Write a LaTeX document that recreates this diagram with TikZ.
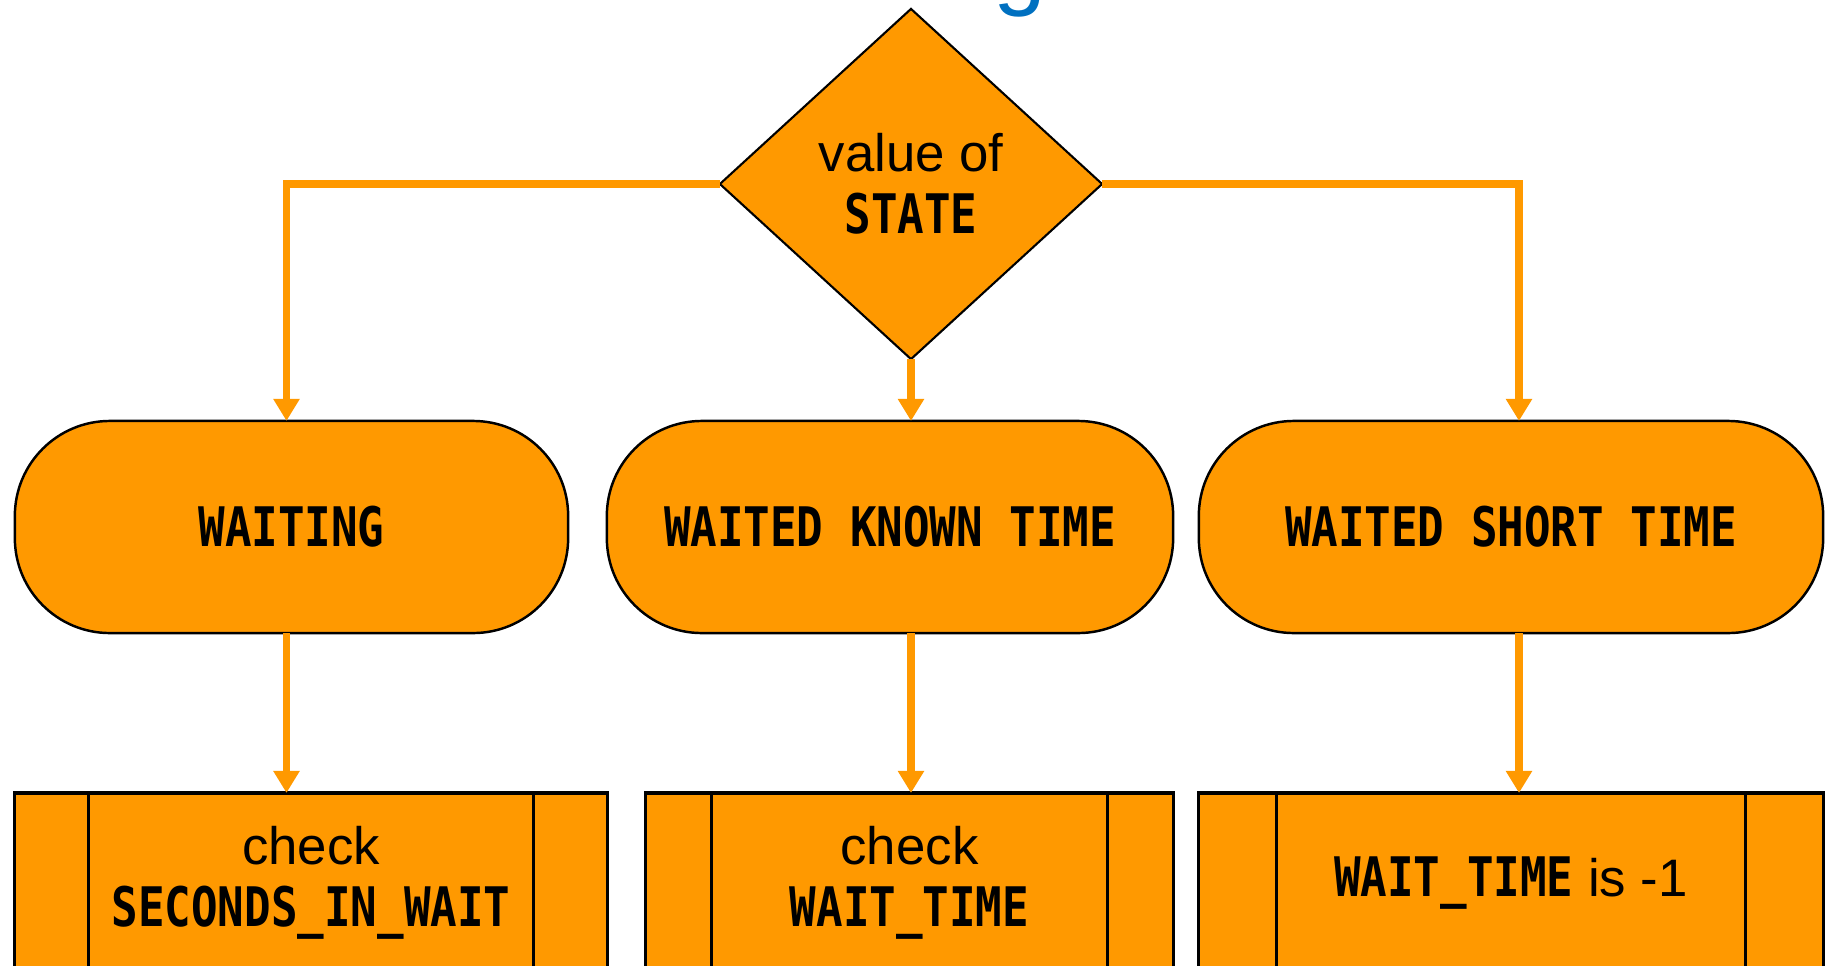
\documentclass[tikz,border=0pt]{standalone}
\usepackage{fontspec}
\setmainfont{Liberation Sans}
\newfontfamily\monofont{DejaVu Sans Mono}[FakeStretch=0.81]
\usetikzlibrary{shapes.geometric,arrows.meta}
\definecolor{flowor}{RGB}{255,153,0}
\definecolor{titleblue}{RGB}{0,112,192}
\newcommand{\fld}[1]{{\monofont\bfseries\fontsize{15.5}{17.5}\selectfont #1}}
\begin{document}
\begin{tikzpicture}[x=0.01cm,y=-0.01cm,
    font=\fontsize{15}{17.5}\selectfont,
    decision/.style={diamond,draw,fill=flowor,line width=0.6pt,minimum width=3.82cm,
      minimum height=3.5cm,inner sep=0pt,outer sep=0pt,align=center},
    statebox/.style={draw,fill=flowor,line width=0.7pt,rounded corners=0.95cm,
      minimum height=2.12cm,inner sep=0pt,outer sep=0pt},
    procbox/.style={draw,fill=flowor,line width=0.9pt,minimum height=1.8cm,
      inner sep=0pt,outer sep=0pt,align=center},
    flow/.style={draw=flowor,line width=2pt,-{Triangle[width=0.25cm,length=0.22cm]}}]
  \useasboundingbox (0,0) rectangle (1829,966);
  \node[anchor=base,text=titleblue,font=\fontsize{27}{30}\selectfont] (ttl) at (1020,-3) {g};
  \node[decision] (state) at (911,184) {value of\\\fld{STATE}};
  \node[statebox,minimum width=5.53cm] (wait) at (291.5,527) {\fld{WAITING}};
  \node[statebox,minimum width=5.66cm] (known) at (890,527) {\fld{WAITED KNOWN TIME}};
  \node[statebox,minimum width=6.24cm] (short) at (1511,527) {\fld{WAITED SHORT TIME}};
  \node[procbox,minimum width=5.92cm] (chk1) at (311,883) {check\\\fld{SECONDS\_IN\_WAIT}};
  \node[procbox,minimum width=5.27cm] (chk2) at (909.5,883) {check\\\fld{WAIT\_TIME}};
  \node[procbox,minimum width=6.24cm] (chk3) at (1511,883) {\fld{WAIT\_TIME} is -1};
  \foreach \b/\o in {chk1/74,chk2/66,chk3/78}
    \draw[line width=0.9pt] ([xshift=\o*0.01cm]\b.north west) -- ([xshift=\o*0.01cm]\b.south west)
      ([xshift=-\o*0.01cm]\b.north east) -- ([xshift=-\o*0.01cm]\b.south east);
  \draw[flow] (state.west) -| ([xshift=-0.05cm]wait.north);
  \draw[flow] (state.south) -- (state.south |- known.north);
  \draw[flow] (state.east) -| ([xshift=0.08cm]short.north);
  \draw[flow] ([xshift=-0.05cm]wait.south) -- ([xshift=-0.05cm]wait.south |- chk1.north);
  \draw[flow] (state.south |- known.south) -- (state.south |- chk2.north);
  \draw[flow] ([xshift=0.08cm]short.south) -- ([xshift=0.08cm]short.south |- chk3.north);
\end{tikzpicture}
\end{document}
